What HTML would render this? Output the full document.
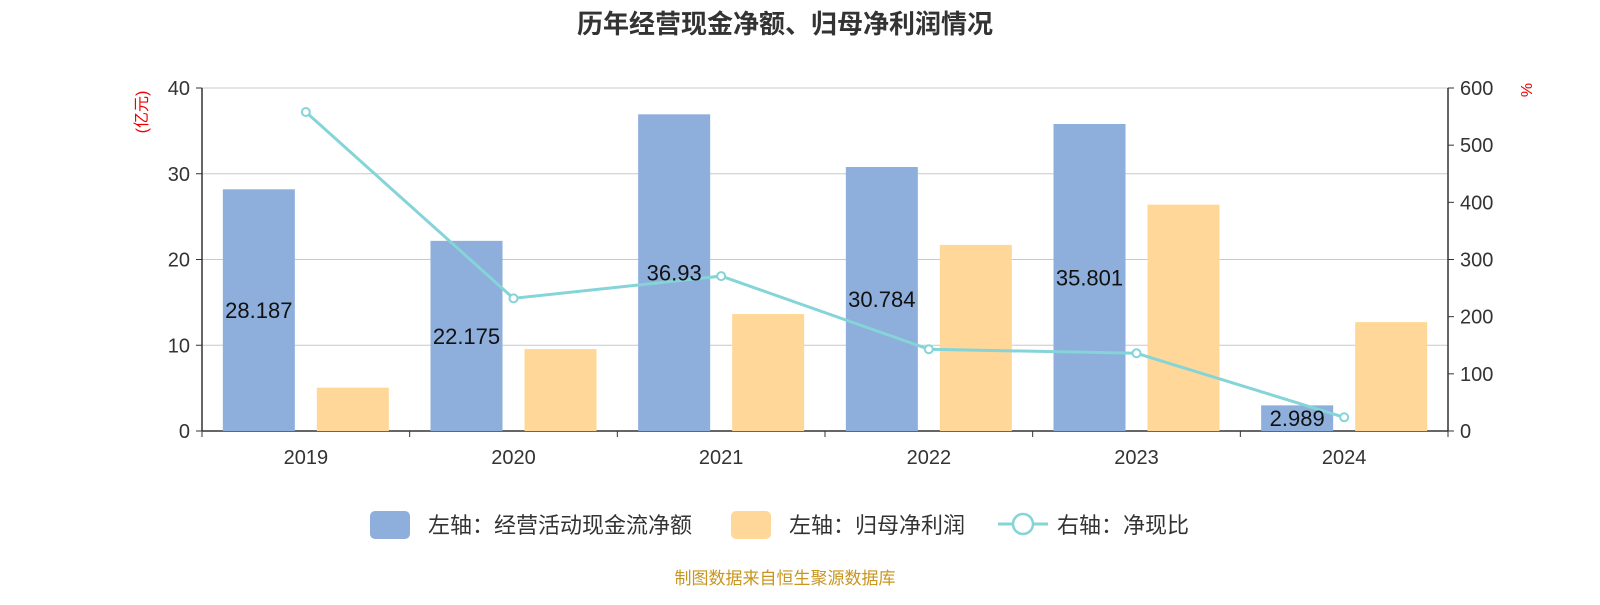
<!DOCTYPE html>
<html><head><meta charset="utf-8"><style>
body{margin:0;background:#fff;width:1600px;height:600px;overflow:hidden}
svg text{font-family:"Liberation Sans","Noto Sans CJK SC",sans-serif}
</style></head><body>
<svg id="c" width="1600" height="600" xmlns="http://www.w3.org/2000/svg">
<text x="785" y="33" text-anchor="middle" font-size="26" font-weight="bold" fill="#333">历年经营现金净额、归母净利润情况</text>
<text transform="translate(147,112) rotate(-90)" text-anchor="middle" font-size="16" fill="#e00">(亿元)</text>
<text transform="translate(1532,90) rotate(-90)" text-anchor="middle" font-size="16" fill="#e00">%</text>
<g id="grid"></g><g id="bars"></g><g id="axes"></g><g id="line"></g><g id="labels"></g>
<g>
<rect x="370" y="511" width="40" height="28" rx="5" fill="#8eaedb"/>
<text x="428" y="533" font-size="22" fill="#333">左轴：经营活动现金流净额</text>
<rect x="731" y="511" width="40" height="28" rx="5" fill="#ffd899"/>
<text x="789" y="533" font-size="22" fill="#333">左轴：归母净利润</text>
<line x1="998" y1="524" x2="1048" y2="524" stroke="#84d4d8" stroke-width="3"/>
<circle cx="1023" cy="524" r="10" fill="#fff" stroke="#84d4d8" stroke-width="2.5"/>
<text x="1057" y="533" font-size="22" fill="#333">右轴：净现比</text>
</g>
<text x="785" y="584" text-anchor="middle" font-size="17" fill="#c8961e">制图数据来自恒生聚源数据库</text>
</svg>
<script>
const categories=["2019","2020","2021","2022","2023","2024"];
const cashFlow=[28.187,22.175,36.93,30.784,35.801,2.989];
const netProfit=[5.05,9.56,13.64,21.7,26.4,12.7];
const ratio=[558,232,271,143,136,24];
const leftTicks=[0,10,20,30,40];
const rightTicks=[0,100,200,300,400,500,600];
const NS="http://www.w3.org/2000/svg";
const X0=202,X1=1448,Y0=431,Y1=88;
const band=(X1-X0)/categories.length;
const yL=v=>Y0-(v/40)*(Y0-Y1);
const yR=v=>Y0-(v/600)*(Y0-Y1);
const xC=i=>X0+band*(i+0.5);
function mk(tag,attrs,parent){const e=document.createElementNS(NS,tag);for(const k in attrs)e.setAttribute(k,attrs[k]);document.getElementById(parent).appendChild(e);return e;}
leftTicks.forEach(t=>{
  const g=mk('line',{x1:X0,x2:X1,y1:yL(t),y2:yL(t),stroke:t?'#c8c8c8':'#333','stroke-width':t?1:1.5},'grid');
  
  
  const tk=mk('line',{x1:X0-6,x2:X0,y1:yL(t),y2:yL(t),stroke:'#333'},'axes');
  
  
  const tx=mk('text',{x:X0-12,y:yL(t)+7,'text-anchor':'end','font-size':20,fill:'#333'},'axes');
  tx.textContent=t;
  
  
});
rightTicks.forEach(t=>{
  const tk=mk('line',{x1:X1,x2:X1+6,y1:yR(t),y2:yR(t),stroke:'#333'},'axes');
  
  
  const tx=mk('text',{x:X1+12,y:yR(t)+7,'font-size':20,fill:'#333'},'axes');
  tx.textContent=t;
  
  
});
[[X0],[X1]].forEach(([x])=>{const a=mk('line',{x1:x,x2:x,y1:Y1,y2:Y0,stroke:'#333','stroke-width':1.5},'axes');
  
  });
for(let i=0;i<=categories.length;i++){const t=mk('line',{x1:X0+band*i,x2:X0+band*i,y1:Y0,y2:Y0+6,stroke:'#333'},'axes');
  
  }
categories.forEach((c,i)=>{
  const tx=mk('text',{x:xC(i),y:Y0+33,'text-anchor':'middle','font-size':20,fill:'#333'},'axes');
  tx.textContent=c;
  
  
  const bw=72;
  const b=mk('rect',{x:xC(i)-47-bw/2,y:yL(cashFlow[i]),width:bw,height:Y0-yL(cashFlow[i]),fill:'#8eaedb'},'bars');
  
  
  const o=mk('rect',{x:xC(i)+47-bw/2,y:yL(netProfit[i]),width:bw,height:Y0-yL(netProfit[i]),fill:'#ffd899'},'bars');
  
  
  const l=mk('text',{x:xC(i)-47,y:(yL(cashFlow[i])+Y0)/2+8,'text-anchor':'middle','font-size':22,fill:'#111'},'labels');
  l.textContent=cashFlow[i];
  
  
});
const pl=mk('polyline',{points:ratio.map((v,i)=>xC(i)+','+yR(v)).join(' '),fill:'none',stroke:'#84d4d8','stroke-width':3},'line');


ratio.forEach((v,i)=>{const p=mk('circle',{cx:xC(i),cy:yR(v),r:4,fill:'#fff',stroke:'#84d4d8','stroke-width':2},'line');
  
  });
</script>
</body></html>
